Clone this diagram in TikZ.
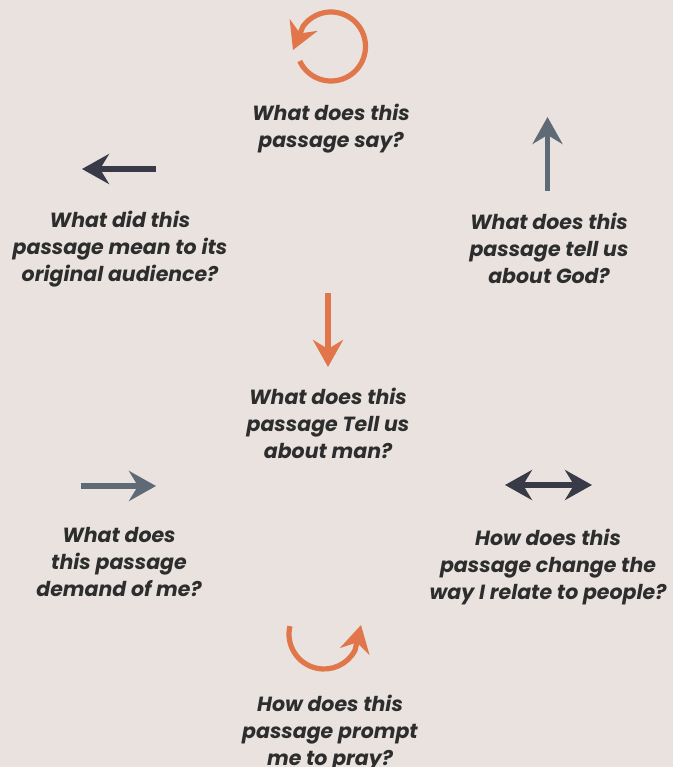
\documentclass[tikz,border=0pt]{standalone}
\usepackage{fontspec}
\newfontfamily\pop{Poppins}
\usetikzlibrary{arrows.meta}
\definecolor{bgc}{HTML}{E9E2DF}
\definecolor{orng}{HTML}{E0764A}
\definecolor{slate}{HTML}{5E6A75}
\definecolor{darkc}{HTML}{383A47}
\definecolor{txtc}{HTML}{2D2D2D}
\tikzset{
  qtext/.style={align=center, text=txtc, font=\pop\bfseries\itshape\fontsize{20.5}{27}\selectfont, inner sep=0pt},
  arr/.style={line width=5.2pt, -{Stealth[length=27pt, width=30pt, inset=9pt]}},
  darr/.style={line width=5.2pt, {Stealth[length=27pt, width=30pt, inset=9pt]}-{Stealth[length=27pt, width=30pt, inset=9pt]}},
}
\begin{document}
\begin{tikzpicture}[x=1pt, y=-1pt]
\useasboundingbox (0,0) rectangle (673,767);
\clip (0,0) rectangle (673,767);
\fill[bgc] (0,0) rectangle (673,767);

% texts
\node[qtext] (t1) at (331,129) {What does this\\passage say?};
\node[qtext] (t2) at (549,248) {What does this\\passage tell us\\about God?};
\node[qtext] (t3) at (120,249.5) {What did this\\passage mean to its\\original audience?};
\node[qtext] (t4) at (328,423) {What does this\\passage Tell us\\about man?};
\node[qtext] (t5) at (119,562) {What does\\this passage\\demand of me?};
\node[qtext] (t6) at (548,567) {How does this\\passage change the\\way I relate to people?};
\node[qtext] (t7) at (330,733) {How does this\\passage prompt\\me to pray?};

% straight arrows
\coordinate (upA) at (547.5,191); \coordinate (upB) at (547.5,117);
\draw[arr, slate] (upA) -- (upB);
\coordinate (lfA) at (156,169); \coordinate (lfB) at (82,169);
\draw[arr, darkc] (lfA) -- (lfB);
\coordinate (dnA) at (328,293); \coordinate (dnB) at (328,367);
\draw[arr, orng] (dnA) -- (dnB);
\coordinate (rtA) at (81,486); \coordinate (rtB) at (156,486);
\draw[arr, slate] (rtA) -- (rtB);
\coordinate (dbA) at (505,485); \coordinate (dbB) at (592,485);
\draw[darr, darkc] (dbA) -- (dbB);

% circular arrow (top)
\coordinate (cTop) at (331,46.5);
\coordinate (cTopTip) at (293,50);
\draw[arr, orng] (cTop) ++(155:34.5) arc[start angle=155, end angle=-144, radius=34.5] -- (cTopTip);

% half-circle arrow (bottom)
\coordinate (cBot) at (324,634);
\coordinate (cBotTip) at (361,625);
\draw[arr, orng] (cBot) ++(193:35) arc[start angle=193, end angle=27.6, radius=35] -- (cBotTip);
\end{tikzpicture}
\end{document}
